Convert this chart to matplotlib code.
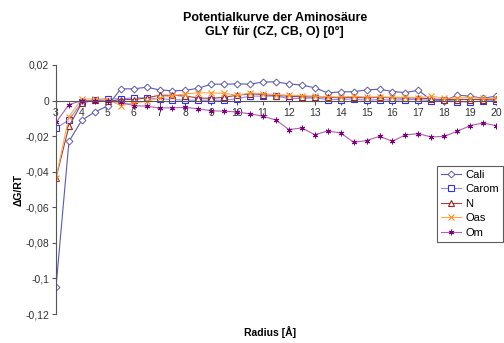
import matplotlib
matplotlib.use("Agg")
import matplotlib.pyplot as plt

plt.rcParams['font.family'] = ['Liberation Sans', 'DejaVu Sans']

radius = [3, 3.5, 4, 4.5, 5, 5.5, 6, 6.5, 7, 7.5, 8, 8.5, 9, 9.5, 10, 10.5,
          11, 11.5, 12, 12.5, 13, 13.5, 14, 14.5, 15, 15.5, 16, 16.5, 17, 17.5,
          18, 18.5, 19, 19.5, 20]

cali = [-0.105, -0.023, -0.011, -0.0064, -0.003, 0.0066, 0.0066, 0.0075, 0.006, 0.0055,
        0.0057, 0.007, 0.0092, 0.0092, 0.0094, 0.0092, 0.0105, 0.0105, 0.0094, 0.0087,
        0.0072, 0.0043, 0.0049, 0.005, 0.006, 0.0064, 0.0051, 0.0045, 0.0058, 0.0002,
        0.0, 0.003, 0.0025, 0.0013, 0.0025]
carom = [-0.0154, -0.011, -0.0008, 0.0006, 0.001, 0.001, 0.0015, 0.0015, 0.001, 0.0006,
         0.0002, 0.0002, 0.0002, 0.0002, 0.001, 0.0025, 0.0025, 0.0025, 0.0012, 0.0012,
         0.0015, 0.0006, 0.0006, 0.0009, 0.0002, 0.0006, 0.0002, 0.0006, 0.0006, 0.0,
         0.0006, -0.0006, -0.0008, -0.0002, 0.0]
n = [-0.0434, -0.0145, -0.0013, 0.0002, -0.0005, 0.0006, 0.0006, 0.0015, 0.003, 0.003,
     0.0025, 0.0015, 0.0012, 0.0019, 0.003, 0.0038, 0.0034, 0.0028, 0.0025, 0.0021,
     0.0021, 0.0019, 0.0015, 0.0019, 0.0015, 0.0019, 0.0015, 0.0015, 0.0015, 0.0009,
     0.0006, 0.0006, 0.0006, 0.0006, 0.0009]
oas = [-0.0434, -0.009, 0.001, 0.0009, 0.0006, -0.0028, -0.0013, -0.0004, 0.0015, 0.0028,
       0.0038, 0.0043, 0.0043, 0.004, 0.003, 0.0043, 0.0038, 0.0034, 0.003, 0.0028,
       0.0025, 0.0021, 0.0021, 0.0023, 0.0021, 0.0021, 0.0019, 0.0019, 0.0017, 0.0025,
       0.0013, 0.0015, 0.0017, 0.0012, 0.0013]
om = [-0.0123, -0.0023, 0.0, 0.0, -0.0004, -0.0009, -0.0028, -0.0032, -0.0041, -0.0041,
      -0.0038, -0.0047, -0.0057, -0.006, -0.0064, -0.0075, -0.0088, -0.011, -0.0163, -0.0154,
      -0.0192, -0.0171, -0.0182, -0.0235, -0.0225, -0.0201, -0.0229, -0.0193, -0.0186, -0.0205,
      -0.0201, -0.0173, -0.0141, -0.0126, -0.0141]

yticks = [0.02, 0, -0.02, -0.04, -0.06, -0.08, -0.1, -0.12]
ytick_labels = ["0,02", "0", "-0,02", "-0,04", "-0,06", "-0,08", "-0,1", "-0,12"]
xticks = list(range(3, 21))

fig = plt.figure(figsize=(5.04, 3.43), dpi=100)
ax = fig.add_axes([56 / 504, 1 - 314 / 343, 440 / 504, 249 / 343])

# x axis crosses at zero, set this before the tick labels
ax.spines['top'].set_visible(False)
ax.spines['right'].set_visible(False)
ax.spines['bottom'].set_position(('data', 0))
ax.spines['left'].set_color("#555555")
ax.spines['bottom'].set_color("#555555")

ax.plot(radius, cali, color="#5a5ab4", lw=0.8, marker="D", ms=3.5, mfc="white", mec="#5a5ab4", mew=0.7, label="Cali")
ax.plot(radius, carom, color="#8c8cf0", lw=0.8, marker="s", ms=4.5, mfc="white", mec="#3030f0", mew=0.8, label="Carom")
ax.plot(radius, n, color="#a04040", lw=0.8, marker="^", ms=4.5, mfc="white", mec="#a02020", mew=0.8, label="N")
ax.plot(radius, oas, color="#ffa850", lw=0.8, marker="x", ms=4, mec="#ff9020", mew=0.8, label="Oas")
ax.plot(radius, om, color="#b060b0", lw=0.8, marker=(6, 2, 0), ms=4, mec="#800080", mew=0.7, label="Om")

ax.set_xlim(3, 20)
ax.set_ylim(-0.12, 0.02)
ax.set_yticks(yticks)
ax.set_yticklabels(ytick_labels)
ax.set_xticks(xticks)
ax.set_xticklabels([str(v) for v in xticks])
ax.tick_params(axis='both', direction='out', length=3, color="#555555", pad=2,
               labelsize=7.5, labelcolor="#333333")

fig.text(0.545, 0.965, "Potentialkurve der Aminosäure\nGLY für (CZ, CB, O) [0°]",
         ha="center", va="top", fontsize=9, fontweight="bold", linespacing=1.25)
fig.text(0.036, 1 - 190 / 343, "ΔG/RT", rotation=90, ha="center", va="center",
         fontsize=7.5, fontweight="bold")
fig.text(0.535, 1 - 332 / 343, "Radius [Å]", ha="center", va="center",
         fontsize=7.5, fontweight="bold")

leg = ax.legend(loc="upper left", bbox_to_anchor=(437 / 504, 1 - 166 / 343),
                bbox_transform=fig.transFigure, fontsize=8, frameon=True, fancybox=False,
                edgecolor="#333333", handlelength=1.8, borderpad=0.35, labelspacing=0.4,
                handletextpad=0.4, borderaxespad=0)
leg.get_frame().set_linewidth(0.8)

fig.savefig("out.png", dpi=100)
